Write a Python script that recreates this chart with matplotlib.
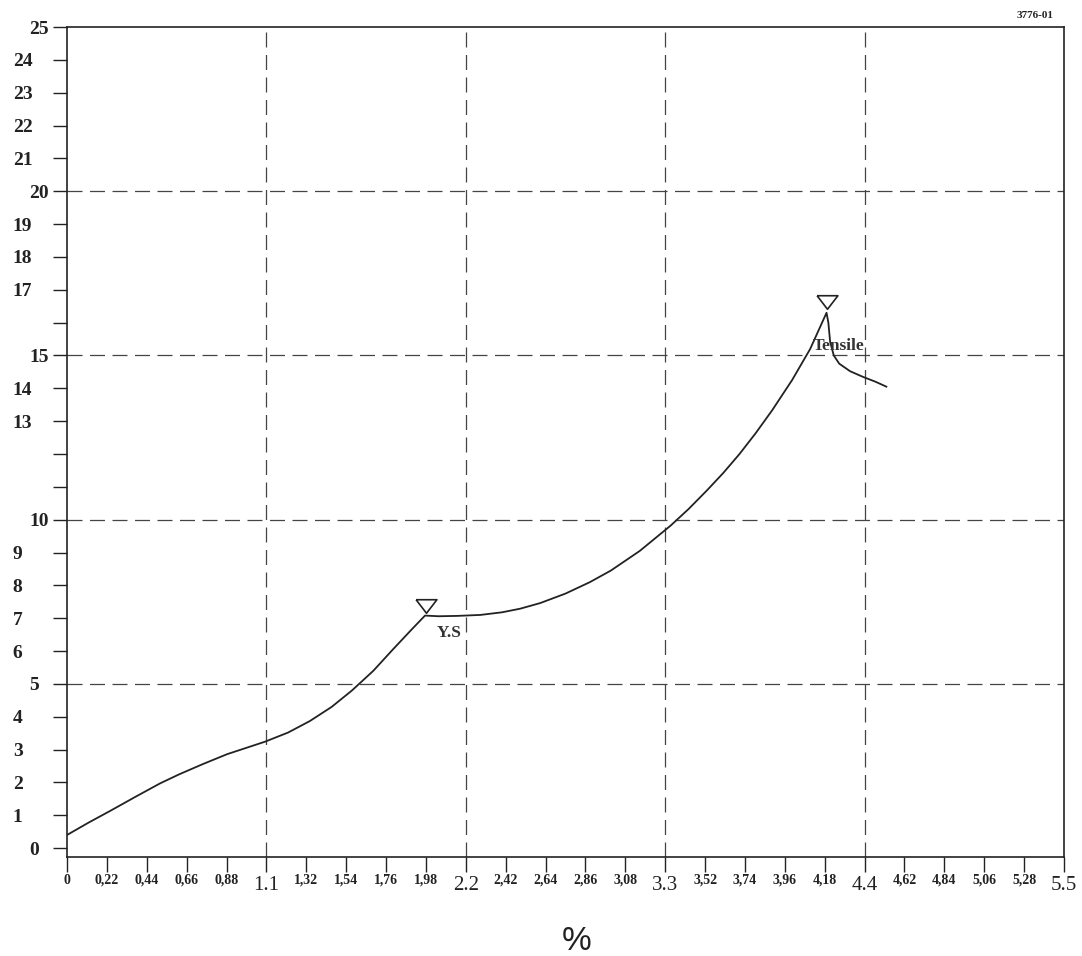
import matplotlib
matplotlib.use("Agg")
import matplotlib.pyplot as plt

# ---- data ----
strain = [0.0, 0.12, 0.237, 0.38, 0.513, 0.62, 0.75, 0.883, 1.092, 1.22, 1.34, 1.46,
          1.572, 1.69, 1.798, 1.90, 1.975, 2.05, 2.15, 2.28, 2.40, 2.50, 2.61, 2.75,
          2.885, 3.00, 3.16, 3.33, 3.43, 3.53, 3.62, 3.71, 3.80, 3.89, 4.00, 4.10,
          4.19, 4.20, 4.21, 4.23, 4.26, 4.32, 4.39, 4.46, 4.52]
load = [0.40, 0.78, 1.13, 1.57, 1.97, 2.25, 2.56, 2.86, 3.24, 3.52, 3.87, 4.30,
        4.80, 5.40, 6.05, 6.65, 7.08, 7.06, 7.07, 7.10, 7.18, 7.29, 7.46, 7.75,
        8.10, 8.45, 9.05, 9.82, 10.33, 10.89, 11.42, 12.00, 12.64, 13.33, 14.25, 15.20,
        16.30, 16.00, 15.41, 15.00, 14.75, 14.52, 14.35, 14.20, 14.05]

marker_x = [1.98, 4.19]
marker_y = [7.36, 16.63]
marker_names = ["Y.S", "Tensile"]
label_x = [2.107, 4.258]
label_y = [6.55, 15.30]

x_major_ticks = [1.1, 2.2, 3.3, 4.4, 5.5]
x_major_labels = ["1.1", "2.2", "3.3", "4.4", "5.5"]
x_minor_ticks = [0, 0.22, 0.44, 0.66, 0.88, 1.32, 1.54, 1.76, 1.98, 2.42, 2.64, 2.86,
                 3.08, 3.52, 3.74, 3.96, 4.18, 4.62, 4.84, 5.06, 5.28]
x_minor_labels = ["0", "0,22", "0,44", "0,66", "0,88", "1,32", "1,54", "1,76", "1,98",
                  "2,42", "2,64", "2,86", "3,08", "3,52", "3,74", "3,96", "4,18",
                  "4,62", "4,84", "5,06", "5,28"]
y_major_ticks = [0, 5, 10, 15, 20, 25]
y_major_labels = ["0", "5", "10", "15", "20", "25"]
y_minor_ticks = [1, 2, 3, 4, 6, 7, 8, 9, 11, 12, 13, 14, 16, 17, 18, 19, 21, 22, 23, 24]
y_minor_labels = ["1", "2", "3", "4", "6", "7", "8", "9", "", "", "13", "14", "",
                  "17", "18", "19", "21", "22", "23", "24"]
grid_x = [1.1, 2.2, 3.3, 4.4]
grid_y = [5, 10, 15, 20]

SERIF = "Liberation Serif"

fig = plt.figure(figsize=(10.82, 9.56), dpi=100)
W, H = 1082, 956
ax = fig.add_axes([67 / W, 1 - 857 / H, (1064 - 67) / W, (857 - 27) / H])
ax.set_xlim(0, 5.5)
ax.set_ylim(-0.27, 25)

for s in ax.spines.values():
    s.set_linewidth(1.2)
    s.set_color("#222222")

# dashed grid
for gx in grid_x:
    ax.axvline(gx, color="#444444", lw=0.9, dashes=(12, 6), zorder=1)
for gy in grid_y:
    ax.axhline(gy, color="#444444", lw=0.9, dashes=(12, 6), zorder=1)

# curve
ax.plot(strain, load, color="#222222", lw=1.3, zorder=3, solid_joinstyle="round")

# triangle markers
tri = [(-1, 0.65), (1, 0.65), (0, -0.65), (-1, 0.65)]
ax.plot(marker_x, marker_y, linestyle="none", marker=tri, markersize=15,
        markerfacecolor="white", markeredgecolor="#222222", markeredgewidth=1.2, zorder=4)

for name, tx, ty in zip(marker_names, label_x, label_y):
    ax.text(tx, ty, name, fontfamily=SERIF, fontweight="bold", fontsize=12.5,
            color="#333333", ha="center", va="center", zorder=5)

# x ticks
ax.set_xticks(x_major_ticks, x_major_labels)
ax.set_xticks(x_minor_ticks, x_minor_labels, minor=True)
ax.tick_params(axis="x", which="both", direction="out", length=11, width=1.0,
               color="#222222")
ax.tick_params(axis="x", which="major", pad=3)
ax.tick_params(axis="x", which="minor", pad=1)
for lab in ax.get_xticklabels(minor=False):
    lab.set_fontfamily(SERIF)
    lab.set_fontsize(15)
    lab.set_color("#222222")
for lab in ax.get_xticklabels(minor=True):
    lab.set_fontfamily(SERIF)
    lab.set_fontweight("bold")
    lab.set_fontsize(10)
    lab.set_color("#222222")

# y ticks
ax.set_yticks(y_major_ticks, y_major_labels)
ax.set_yticks(y_minor_ticks, y_minor_labels, minor=True)
ax.tick_params(axis="y", which="both", direction="out", length=10, width=1.0,
               color="#222222")
ax.tick_params(axis="y", which="major", pad=17)
ax.tick_params(axis="y", which="minor", pad=29)
for lab in ax.get_yticklabels(minor=False) + ax.get_yticklabels(minor=True):
    lab.set_fontfamily(SERIF)
    lab.set_fontweight("bold")
    lab.set_fontsize(14)
    lab.set_color("#222222")
    lab.set_horizontalalignment("left")

fig.text(1035 / W, 1 - 15 / H, "3776-01", fontfamily=SERIF, fontweight="bold",
         fontsize=8, ha="center", va="center", color="#222222")
fig.text(577 / W, 1 - 941 / H, "%", fontfamily="Liberation Sans", fontsize=24,
         ha="center", va="center", color="#222222")

fig.savefig("out.png", dpi=100)
